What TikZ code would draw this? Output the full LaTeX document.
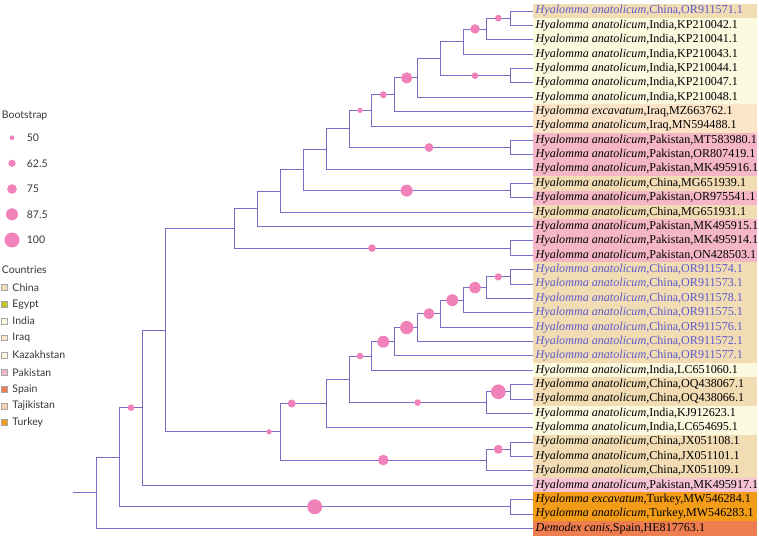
\documentclass[tikz,border=0pt]{standalone}
\usepackage{fontspec}
\setmainfont{Liberation Serif}
\newfontfamily\legfont{Lato}
\usepackage{tikz}
\usetikzlibrary{calc}

\definecolor{brcol}{RGB}{122,108,200}
\definecolor{dotcol}{RGB}{240,130,185}
\definecolor{bluetxt}{RGB}{92,90,205}
\definecolor{legtxt}{RGB}{55,55,55}
\definecolor{cChina}{RGB}{242,220,180}
\definecolor{cEgypt}{RGB}{196,196,30}
\definecolor{cIndia}{RGB}{251,249,222}
\definecolor{cIraq}{RGB}{252,228,200}
\definecolor{cKaz}{RGB}{250,246,222}
\definecolor{cPak}{RGB}{245,183,200}
\definecolor{cPakl}{RGB}{247,196,212}
\definecolor{cSpain}{RGB}{238,125,80}
\definecolor{cTaj}{RGB}{249,210,180}
\definecolor{cTurkey}{RGB}{243,156,24}

\tikzset{
  br/.style={draw=brcol, line width=0.9pt},
  bs/.style={circle, fill=dotcol, inner sep=0pt, minimum size=#1},
  leaf/.style={anchor=west, fill=#1, minimum height=14.37pt,
    inner xsep=2.5pt, inner ysep=0pt, font=\fontsize{12.1}{12.1}\selectfont},
  legtext/.style={anchor=west, inner sep=0pt, text=legtxt, font=\legfont\fontsize{10.5}{10.5}\selectfont},
  legbox/.style={draw=gray!70, line width=0.4pt, fill=#1, minimum size=5.6pt, inner sep=0pt}
}
\newcommand{\Ha}{\textit{Hyalomma anatolicum}}
\newcommand{\He}{\textit{Hyalomma excavatum}}
\newcommand{\lab}[1]{\makebox[219pt][l]{#1}}

\begin{document}
\begin{tikzpicture}[x=1pt,y=-1pt]
  \useasboundingbox (0,0) rectangle (759,540);
  % 图例: Bootstrap
  \node[legtext] (bstitle) at (1.7,116) {Bootstrap};
  \node[bs=4.7pt]  (b50)  at (12,137.7) {};
  \node[bs=7.3pt]  (b625) at (12,163.3) {};
  \node[bs=9.7pt]  (b75)  at (12,189) {};
  \node[bs=12pt]   (b875) at (12,214.3) {};
  \node[bs=15pt]   (b100) at (12,240) {};
  \node[legtext] at (26.7,137.7) {50};
  \node[legtext] at (26.7,163.3) {62.5};
  \node[legtext] at (26.7,189) {75};
  \node[legtext] at (26.7,214.3) {87.5};
  \node[legtext] at (26.7,240) {100};
  % 图例: Countries
  \node[legtext] (ctitle) at (1.7,270) {Countries};
  \node[legbox=cChina]  (kChina)  at (4.2,287.3) {};
  \node[legbox=cEgypt]  (kEgypt)  at (4.2,304.3) {};
  \node[legbox=cIndia]  (kIndia)  at (4.2,321) {};
  \node[legbox=cIraq]   (kIraq)   at (4.2,337.7) {};
  \node[legbox=cKaz]    (kKaz)    at (4.2,355) {};
  \node[legbox=cPak]    (kPak)    at (4.2,372.3) {};
  \node[legbox=cSpain]  (kSpain)  at (4.2,389.3) {};
  \node[legbox=cTaj]    (kTaj)    at (4.2,406) {};
  \node[legbox=cTurkey] (kTurkey) at (4.2,422.3) {};
  \node[legtext] at (12.3,287.3) {China};
  \node[legtext] at (12.3,304.3) {Egypt};
  \node[legtext] at (12.3,321) {India};
  \node[legtext] at (12.3,337.7) {Iraq};
  \node[legtext] at (12.3,355) {Kazakhstan};
  \node[legtext] at (12.3,372.3) {Pakistan};
  \node[legtext] at (12.3,389.3) {Spain};
  \node[legtext] at (12.3,406) {Tajikistan};
  \node[legtext] at (12.3,422.3) {Turkey};
  % 叶节点标签
  \node[leaf=cChina, text=bluetxt] (OR911571) at (533,11) {\lab{\Ha,China,OR911571.1}};
  \node[leaf=cIndia] (KP210042) at (533,25.37) {\lab{\Ha,India,KP210042.1}};
  \node[leaf=cIndia] (KP210041) at (533,39.74) {\lab{\Ha,India,KP210041.1}};
  \node[leaf=cIndia] (KP210043) at (533,54.11) {\lab{\Ha,India,KP210043.1}};
  \node[leaf=cIndia] (KP210044) at (533,68.48) {\lab{\Ha,India,KP210044.1}};
  \node[leaf=cIndia] (KP210047) at (533,82.85) {\lab{\Ha,India,KP210047.1}};
  \node[leaf=cIndia] (KP210048) at (533,97.22) {\lab{\Ha,India,KP210048.1}};
  \node[leaf=cIraq] (MZ663762) at (533,111.59) {\lab{\He,Iraq,MZ663762.1}};
  \node[leaf=cIraq] (MN594488) at (533,125.96) {\lab{\Ha,Iraq,MN594488.1}};
  \node[leaf=cPak] (MT583980) at (533,140.33) {\lab{\Ha,Pakistan,MT583980.1}};
  \node[leaf=cPak] (OR807419) at (533,154.7) {\lab{\Ha,Pakistan,OR807419.1}};
  \node[leaf=cPak] (MK495916) at (533,169.07) {\lab{\Ha,Pakistan,MK495916.1}};
  \node[leaf=cChina] (MG651939) at (533,183.44) {\lab{\Ha,China,MG651939.1}};
  \node[leaf=cPak] (OR975541) at (533,197.81) {\lab{\Ha,Pakistan,OR975541.1}};
  \node[leaf=cChina] (MG651931) at (533,212.18) {\lab{\Ha,China,MG651931.1}};
  \node[leaf=cPak] (MK495915) at (533,226.55) {\lab{\Ha,Pakistan,MK495915.1}};
  \node[leaf=cPak] (MK495914) at (533,240.92) {\lab{\Ha,Pakistan,MK495914.1}};
  \node[leaf=cPak] (ON428503) at (533,255.29) {\lab{\Ha,Pakistan,ON428503.1}};
  \node[leaf=cChina, text=bluetxt] (OR911574) at (533,269.66) {\lab{\Ha,China,OR911574.1}};
  \node[leaf=cChina, text=bluetxt] (OR911573) at (533,284.03) {\lab{\Ha,China,OR911573.1}};
  \node[leaf=cChina, text=bluetxt] (OR911578) at (533,298.4) {\lab{\Ha,China,OR911578.1}};
  \node[leaf=cChina, text=bluetxt] (OR911575) at (533,312.77) {\lab{\Ha,China,OR911575.1}};
  \node[leaf=cChina, text=bluetxt] (OR911576) at (533,327.14) {\lab{\Ha,China,OR911576.1}};
  \node[leaf=cChina, text=bluetxt] (OR911572) at (533,341.51) {\lab{\Ha,China,OR911572.1}};
  \node[leaf=cChina, text=bluetxt] (OR911577) at (533,355.88) {\lab{\Ha,China,OR911577.1}};
  \node[leaf=cIndia] (LC651060) at (533,370.25) {\lab{\Ha,India,LC651060.1}};
  \node[leaf=cChina] (OQ438067) at (533,384.62) {\lab{\Ha,China,OQ438067.1}};
  \node[leaf=cChina] (OQ438066) at (533,398.99) {\lab{\Ha,China,OQ438066.1}};
  \node[leaf=cIndia] (KJ912623) at (533,413.36) {\lab{\Ha,India,KJ912623.1}};
  \node[leaf=cIndia] (LC654695) at (533,427.73) {\lab{\Ha,India,LC654695.1}};
  \node[leaf=cChina] (JX051108) at (533,442.1) {\lab{\Ha,China,JX051108.1}};
  \node[leaf=cChina] (JX051101) at (533,456.47) {\lab{\Ha,China,JX051101.1}};
  \node[leaf=cChina] (JX051109) at (533,470.84) {\lab{\Ha,China,JX051109.1}};
  \node[leaf=cPakl] (MK495917) at (533,485.21) {\lab{\Ha,Pakistan,MK495917.1}};
  \node[leaf=cTurkey] (MW546284) at (533,499.58) {\lab{\He,Turkey,MW546284.1}};
  \node[leaf=cTurkey] (MW546283) at (533,513.95) {\lab{\Ha,Turkey,MW546283.1}};
  \node[leaf=cSpain] (HE817763) at (533,528.32) {\lab{\textit{Demodex canis},Spain,HE817763.1}};
  % 内部节点 (上支)
  \coordinate (n12) at (510,18.19);
  \coordinate (n123) at (486.7,28.96);
  \coordinate (n1to4) at (463.3,41.54);
  \coordinate (n56) at (510,75.67);
  \coordinate (n1to6) at (440,58.6);
  \coordinate (n1to7) at (417.7,77.91);
  \coordinate (n1to8) at (394.3,94.75);
  \coordinate (n1to9) at (371.7,110.35);
  \coordinate (n1011) at (510,147.52);
  \coordinate (n1to11) at (349.3,128.93);
  \coordinate (n1to12) at (326,149);
  \coordinate (n1314) at (510,190.63);
  \coordinate (n1to14) at (303.3,169.81);
  \coordinate (n1to15) at (280.3,191);
  \coordinate (n1to16) at (257.3,208.77);
  \coordinate (n1718) at (510,248.1);
  \coordinate (n1to18) at (234.3,228.44);
  % 内部节点 (下支)
  \coordinate (n1920) at (510,276.85);
  \coordinate (n19to21) at (486.7,287.62);
  \coordinate (n19to22) at (463.3,300.2);
  \coordinate (n19to23) at (440,313.67);
  \coordinate (n19to24) at (417.7,327.59);
  \coordinate (n19to25) at (394.3,341.74);
  \coordinate (n19to26) at (371.7,356);
  \coordinate (n2728) at (510,391.8);
  \coordinate (n27to29) at (486.7,402.58);
  \coordinate (n19to29) at (349,379.29);
  \coordinate (n19to30) at (326,403.51);
  \coordinate (n3132) at (510,449.29);
  \coordinate (n31to33) at (486.7,460.06);
  \coordinate (n19to33) at (280,431.79);
  \coordinate (n1to33) at (165.3,330.11);
  \coordinate (n1to34) at (142.3,407.66);
  \coordinate (n3536) at (510,506.77);
  \coordinate (n1to36) at (119.3,457.21);
  \coordinate (root) at (96.7,492.77);
  \coordinate (stub) at (73.3,492.77);
  % 树枝
  \draw[br] (n12) |- (OR911571.west) (n12) |- (KP210042.west);
  \draw[br] (n123) |- (n12) (n123) |- (KP210041.west);
  \draw[br] (n1to4) |- (n123) (n1to4) |- (KP210043.west);
  \draw[br] (n56) |- (KP210044.west) (n56) |- (KP210047.west);
  \draw[br] (n1to6) |- (n1to4) (n1to6) |- (n56);
  \draw[br] (n1to7) |- (n1to6) (n1to7) |- (KP210048.west);
  \draw[br] (n1to8) |- (n1to7) (n1to8) |- (MZ663762.west);
  \draw[br] (n1to9) |- (n1to8) (n1to9) |- (MN594488.west);
  \draw[br] (n1011) |- (MT583980.west) (n1011) |- (OR807419.west);
  \draw[br] (n1to11) |- (n1to9) (n1to11) |- (n1011);
  \draw[br] (n1to12) |- (n1to11) (n1to12) |- (MK495916.west);
  \draw[br] (n1314) |- (MG651939.west) (n1314) |- (OR975541.west);
  \draw[br] (n1to14) |- (n1to12) (n1to14) |- (n1314);
  \draw[br] (n1to15) |- (n1to14) (n1to15) |- (MG651931.west);
  \draw[br] (n1to16) |- (n1to15) (n1to16) |- (MK495915.west);
  \draw[br] (n1718) |- (MK495914.west) (n1718) |- (ON428503.west);
  \draw[br] (n1to18) |- (n1to16) (n1to18) |- (n1718);
  \draw[br] (n1920) |- (OR911574.west) (n1920) |- (OR911573.west);
  \draw[br] (n19to21) |- (n1920) (n19to21) |- (OR911578.west);
  \draw[br] (n19to22) |- (n19to21) (n19to22) |- (OR911575.west);
  \draw[br] (n19to23) |- (n19to22) (n19to23) |- (OR911576.west);
  \draw[br] (n19to24) |- (n19to23) (n19to24) |- (OR911572.west);
  \draw[br] (n19to25) |- (n19to24) (n19to25) |- (OR911577.west);
  \draw[br] (n19to26) |- (n19to25) (n19to26) |- (LC651060.west);
  \draw[br] (n2728) |- (OQ438067.west) (n2728) |- (OQ438066.west);
  \draw[br] (n27to29) |- (n2728) (n27to29) |- (KJ912623.west);
  \draw[br] (n19to29) |- (n19to26) (n19to29) |- (n27to29);
  \draw[br] (n19to30) |- (n19to29) (n19to30) |- (LC654695.west);
  \draw[br] (n3132) |- (JX051108.west) (n3132) |- (JX051101.west);
  \draw[br] (n31to33) |- (n3132) (n31to33) |- (JX051109.west);
  \draw[br] (n19to33) |- (n19to30) (n19to33) |- (n31to33);
  \draw[br] (n1to33) |- (n1to18) (n1to33) |- (n19to33);
  \draw[br] (n1to34) |- (n1to33) (n1to34) |- (MK495917.west);
  \draw[br] (n3536) |- (MW546284.west) (n3536) |- (MW546283.west);
  \draw[br] (n1to36) |- (n1to34) (n1to36) |- (n3536);
  \draw[br] (root) |- (n1to36) (root) |- (HE817763.west);
  \draw[br] (stub) -- (root);
  % Bootstrap 圆点
  \node[bs=6.7pt]  at (498.3,18.19) {};
  \node[bs=9.5pt]  at (475,28.96) {};
  \node[bs=6.7pt]  at (475,75.67) {};
  \node[bs=11.3pt] at (406.7,77.91) {};
  \node[bs=7pt]    at (383.3,94.75) {};
  \node[bs=5.3pt]  at (360,110.35) {};
  \node[bs=8.7pt]  at (429,147.52) {};
  \node[bs=12pt]   at (406.7,190.63) {};
  \node[bs=7.7pt]  at (372,248.1) {};
  \node[bs=7.3pt]  at (498.3,276.85) {};
  \node[bs=11.5pt] at (475,287.62) {};
  \node[bs=12pt]   at (452.3,300.2) {};
  \node[bs=11pt]   at (429,313.67) {};
  \node[bs=13.3pt] at (406.7,327.59) {};
  \node[bs=12pt]   at (383.3,341.74) {};
  \node[bs=6.7pt]  at (360,356) {};
  \node[bs=14.7pt] at (498.3,391.8) {};
  \node[bs=6.7pt]  at (417.7,402.58) {};
  \node[bs=8pt]    at (291.7,403.51) {};
  \node[bs=9pt]    at (498.3,449.29) {};
  \node[bs=10.7pt] at (383.3,460.06) {};
  \node[bs=5.3pt]  at (269,431.79) {};
  \node[bs=6.7pt]  at (131,407.66) {};
  \node[bs=15pt]   at (314.7,506.77) {};
\end{tikzpicture}
\end{document}
